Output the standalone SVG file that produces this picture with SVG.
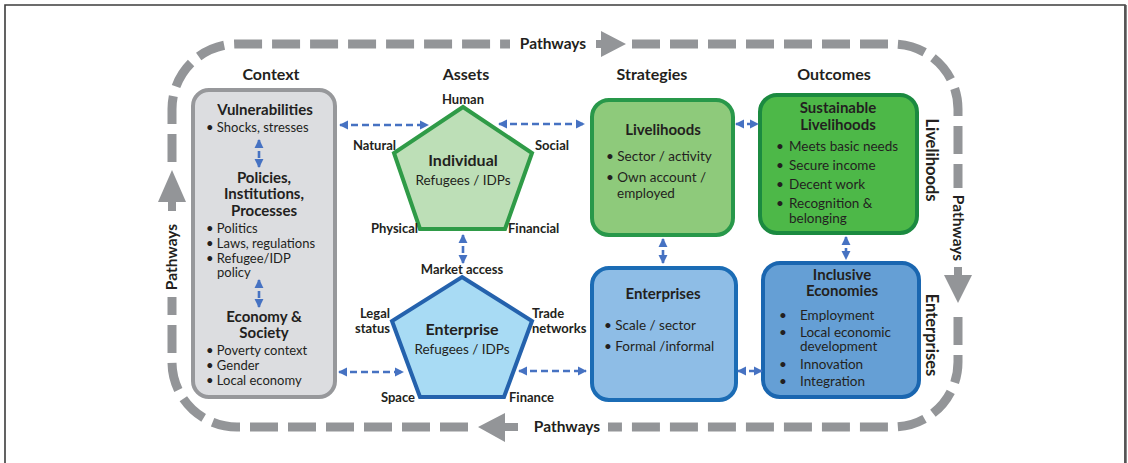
<svg xmlns="http://www.w3.org/2000/svg" width="1128" height="463" viewBox="0 0 1128 463">
  <defs>
    <style>
      text { font-family: "Lato", "Liberation Sans", sans-serif; fill: #231f20; }
      .hdr { font-size: 16px; font-weight: bold; text-anchor: middle; }
      .ttl { font-size: 15px; font-weight: bold; text-anchor: middle; }
      .big { font-size: 16px; font-weight: bold; text-anchor: middle; }
      .lbl { font-size: 13px; font-weight: bold; }
      .body { font-size: 13px; }
      .bx { font-size: 13.5px; }
      .sub { font-size: 13.5px; text-anchor: middle; }
      .pw { font-size: 15.5px; font-weight: bold; }
      .loop { fill: none; stroke: #939598; stroke-width: 9; stroke-dasharray: 28 10; }
      .blk { fill: #939598; }
      .link { fill: none; stroke: #4672c2; stroke-width: 2.6; stroke-dasharray: 7 4; marker-start: url(#tip); marker-end: url(#tip); }
      .box { stroke-width: 4; }
    </style>
    <marker id="tip" viewBox="0 0 10 10" refX="9" refY="5" markerWidth="3.6" markerHeight="3.6" orient="auto-start-reverse">
      <path d="M0,0 L10,5 L0,10 Z" fill="#4672c2"/>
    </marker>
  </defs>

  <rect width="1128" height="463" fill="#ffffff"/>
  <!-- outer frame -->
  <path d="M5,463 V5 H1125 V463" fill="none" stroke="#3c3c3c" stroke-width="1.6"/>
  <line x1="1125.5" y1="5" x2="1125.5" y2="463" stroke="#555" stroke-width="2.4"/>

  <!-- pathway loop -->
  <g id="pathways">
    <path class="loop" d="M632,44 H893 A65,65 0 0 1 958,109 V188"/>
    <path class="loop" d="M958,317 V362 A65,65 0 0 1 893,427 H608"/>
    <path class="loop" d="M468,427 H237 A65,65 0 0 1 172,362 V297"/>
    <path class="loop" d="M172,162 V109 A65,65 0 0 1 237,44 H510"/>
    <polygon class="blk" points="596,40 601,40 601,31 626,44 601,57 601,48 596,48"/>
    <polygon class="blk" points="478,427 505,413 505,423 518,423 518,431 505,431 505,442"/>
    <polygon class="blk" points="172,170 186,202 176,202 176,211 168,211 168,202 158,202"/>
    <polygon class="blk" points="958,303 972,275 962,275 962,267 954,267 954,275 944,275"/>
    <text class="pw" x="553" y="49" text-anchor="middle">Pathways</text>
    <text class="pw" x="567" y="432" text-anchor="middle">Pathways</text>
    <text class="pw" transform="translate(177,257) rotate(-90)" text-anchor="middle">Pathways</text>
    <text class="pw" transform="translate(953,228) rotate(90)" text-anchor="middle">Pathways</text>
    <text class="pw" transform="translate(926,160) rotate(90)" text-anchor="middle" style="font-size:16.5px">Livelihoods</text>
    <text class="pw" transform="translate(926,335) rotate(90)" text-anchor="middle" style="font-size:16.5px">Enterprises</text>
  </g>

  <!-- column headers -->
  <g id="headers">
    <text class="hdr" x="271" y="80">Context</text>
    <text class="hdr" x="466" y="80">Assets</text>
    <text class="hdr" x="652" y="80">Strategies</text>
    <text class="hdr" x="834" y="80">Outcomes</text>
  </g>

  <!-- context -->
  <g id="context">
    <rect class="box" x="193" y="90" width="142" height="307" rx="16" fill="#dcdde0" stroke="#97989b"/>
    <text class="ttl" x="265" y="115">Vulnerabilities</text>
    <text class="body" x="206" y="132">• Shocks, stresses</text>
    <text class="ttl" x="264" y="183">Policies,</text>
    <text class="ttl" x="264" y="199">Institutions,</text>
    <text class="ttl" x="264" y="216">Processes</text>
    <text class="body" x="206" y="233">• Politics</text>
    <text class="body" x="206" y="248">• Laws, regulations</text>
    <text class="body" x="206" y="263">• Refugee/IDP</text>
    <text class="body" x="217" y="277">policy</text>
    <text class="ttl" x="264" y="322">Economy &amp;</text>
    <text class="ttl" x="264" y="338">Society</text>
    <text class="body" x="206" y="355">• Poverty context</text>
    <text class="body" x="206" y="370">• Gender</text>
    <text class="body" x="206" y="385">• Local economy</text>
  </g>

  <!-- individual assets -->
  <g id="individual">
    <polygon points="463,107 532,153 505,229 420,229 394,153" fill="#bddfb7" stroke="#2f9b47" stroke-width="4"/>
    <text class="big" x="463" y="166">Individual</text>
    <text class="sub" x="463" y="185">Refugees / IDPs</text>
    <text class="lbl" x="463" y="104" text-anchor="middle">Human</text>
    <text class="lbl" x="396" y="150" text-anchor="end">Natural</text>
    <text class="lbl" x="535" y="150">Social</text>
    <text class="lbl" x="418" y="233" text-anchor="end">Physical</text>
    <text class="lbl" x="508" y="233">Financial</text>
  </g>

  <!-- enterprise assets -->
  <g id="enterprise">
    <polygon points="462,277 532,321 504,397 420,397 392,321" fill="#a8dbf4" stroke="#2462ad" stroke-width="4"/>
    <text class="big" x="462" y="335">Enterprise</text>
    <text class="sub" x="462" y="354">Refugees / IDPs</text>
    <text class="lbl" x="462" y="274" text-anchor="middle">Market access</text>
    <text class="lbl" x="390" y="318" text-anchor="end">Legal</text>
    <text class="lbl" x="390" y="333" text-anchor="end">status</text>
    <text class="lbl" x="532" y="318">Trade</text>
    <text class="lbl" x="532" y="333">networks</text>
    <text class="lbl" x="415" y="402" text-anchor="end">Space</text>
    <text class="lbl" x="509" y="402">Finance</text>
  </g>

  <!-- livelihood strategies -->
  <g id="livelihoods">
    <rect class="box" x="592" y="100" width="141" height="135" rx="17" fill="#8eca7b" stroke="#28984a"/>
    <text class="ttl" x="663" y="135">Livelihoods</text>
    <text class="bx" x="606" y="161">• Sector / activity</text>
    <text class="bx" x="606" y="182">• Own account /</text>
    <text class="bx" x="617" y="198">employed</text>
  </g>

  <!-- sustainable livelihoods -->
  <g id="sustainable">
    <rect class="box" x="760" y="95" width="157" height="138" rx="17" fill="#4db848" stroke="#1b8a40"/>
    <text class="ttl" x="838" y="113">Sustainable</text>
    <text class="ttl" x="838" y="130">Livelihoods</text>
    <text class="bx" x="776" y="151">•</text><text class="bx" x="789" y="151">Meets basic needs</text>
    <text class="bx" x="776" y="170">•</text><text class="bx" x="789" y="170">Secure income</text>
    <text class="bx" x="776" y="189">•</text><text class="bx" x="789" y="189">Decent work</text>
    <text class="bx" x="776" y="208">•</text><text class="bx" x="789" y="208">Recognition &amp;</text>
    <text class="bx" x="789" y="223">belonging</text>
  </g>

  <!-- enterprise strategies -->
  <g id="enterprises">
    <rect class="box" x="592" y="268" width="144" height="132" rx="17" fill="#8ebde6" stroke="#1b6cb5"/>
    <text class="ttl" x="663" y="299">Enterprises</text>
    <text class="bx" x="604" y="330">• Scale / sector</text>
    <text class="bx" x="604" y="351">• Formal /informal</text>
  </g>

  <!-- inclusive economies -->
  <g id="inclusive">
    <rect class="box" x="763" y="263" width="156" height="134" rx="17" fill="#659fd5" stroke="#1a66b0"/>
    <text class="ttl" x="842" y="280">Inclusive</text>
    <text class="ttl" x="842" y="296">Economies</text>
    <text class="bx" x="779" y="320">•</text><text class="bx" x="800" y="320">Employment</text>
    <text class="bx" x="779" y="337">•</text><text class="bx" x="800" y="337">Local economic</text>
    <text class="bx" x="800" y="351">development</text>
    <text class="bx" x="779" y="369">•</text><text class="bx" x="800" y="369">Innovation</text>
    <text class="bx" x="779" y="386">•</text><text class="bx" x="800" y="386">Integration</text>
  </g>

  <!-- connectors -->
  <g id="connectors">
    <line class="link" x1="340" y1="125" x2="428" y2="125"/>
    <line class="link" x1="499" y1="124" x2="584" y2="124"/>
    <line class="link" x1="736" y1="124" x2="758" y2="124"/>
    <line class="link" x1="259" y1="140" x2="259" y2="167"/>
    <line class="link" x1="259" y1="280" x2="259" y2="307"/>
    <line class="link" x1="463" y1="235" x2="463" y2="263"/>
    <line class="link" x1="339" y1="372" x2="403" y2="372"/>
    <line class="link" x1="519" y1="371" x2="586" y2="371"/>
    <line class="link" x1="663" y1="239" x2="663" y2="263"/>
    <line class="link" x1="846" y1="237" x2="846" y2="259"/>
    <line class="link" x1="738" y1="371" x2="762" y2="371"/>
  </g>
</svg>
